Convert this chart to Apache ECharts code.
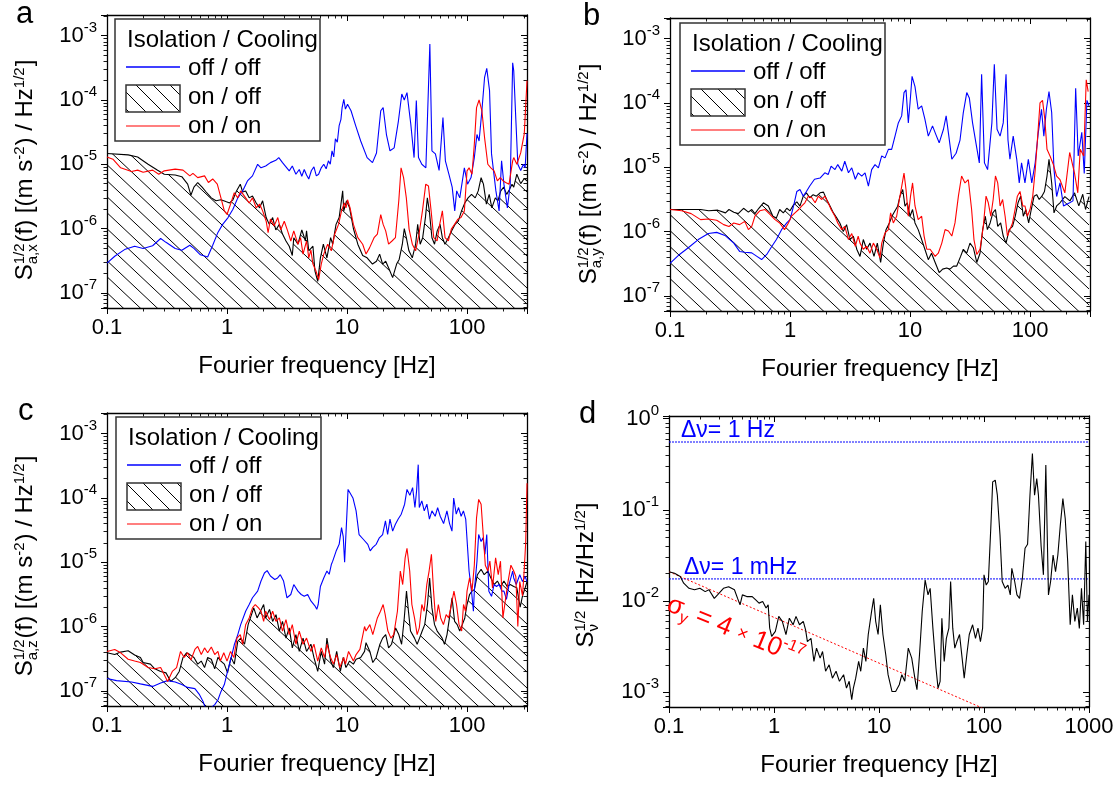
<!DOCTYPE html>
<html><head><meta charset="utf-8">
<script src="https://cdn.jsdelivr.net/npm/echarts@6/dist/echarts.min.js"></script>
<style>html,body{margin:0;padding:0;background:#fff}#c{width:1116px;height:785px}</style>
</head><body><div id="c"></div>
<script>
// ---------------- DATA ----------------
const aOffOff = [[0.1,2.9e-7],[0.116,3.7e-7],[0.14,4.7e-7],[0.17,5.3e-7],[0.2,4.9e-7],[0.24,5.4e-7],[0.28,7.0e-7],[0.31,6.1e-7],[0.37,4.9e-7],[0.42,4.6e-7],[0.49,5.5e-7],[0.53,4.9e-7],[0.6,3.9e-7],[0.69,3.6e-7],[0.76,5.5e-7],[0.84,8.7e-7],[0.92,1.16e-6],[1.02,1.48e-6],[1.12,2.0e-6],[1.23,3.0e-6],[1.35,3.85e-6],[1.48,5.5e-6],[1.63,6.6e-6],[1.8,1.0e-5],[1.92,8.8e-6],[2.1,9.4e-6],[2.3,1.06e-5],[2.55,1.15e-5],[2.7,1.27e-5],[2.9,1.06e-5],[3.1,9.1e-6],[3.3,7.9e-6],[3.5,9.4e-6],[3.75,7.0e-6],[4.0,8.3e-6],[4.2,6.5e-6],[4.4,8.3e-6],[4.6,6.8e-6],[4.8,5.9e-6],[5.05,8.0e-6],[5.3,9.1e-6],[5.55,6.6e-6],[5.8,7.0e-6],[6.1,8.8e-6],[6.4,1.0e-5],[6.7,8.5e-6],[7.0,1.13e-5],[7.25,1.0e-5],[7.5,1.62e-5],[7.75,1.3e-5],[8.0,2.5e-5],[8.3,2.2e-5],[8.6,4.0e-5],[8.9,5.0e-5],[9.1,7.6e-5],[9.4,1.02e-4],[9.7,7.2e-5],[10.1,8.6e-5],[10.8,6.8e-5],[11.8,4.0e-5],[13,2.3e-5],[14.7,1.27e-5],[16.3,1.06e-5],[17.6,1.5e-5],[19.1,6.8e-5],[20,7.6e-5],[21.3,2.9e-5],[22.8,1.62e-5],[24.7,1.8e-5],[26.8,4.7e-5],[28.6,1.24e-4],[30,1.0e-4],[31.6,1.3e-4],[34,4.2e-5],[36.2,1.27e-5],[37.8,9.8e-5],[39.4,1.27e-5],[42,1.0e-5],[45.4,8.8e-6],[49,7.4e-4],[51,1.62e-5],[54.5,1.45e-5],[58.5,8.0e-6],[63,5.35e-5],[66,1.13e-5],[70.6,7.0e-6],[75.2,4.4e-6],[79,1.88e-6],[82,3.85e-6],[87,3.0e-6],[95,8.8e-6],[101,4.9e-6],[108,6.2e-6],[115,1.27e-5],[121,2.9e-5],[126,2.3e-5],[133,6.8e-5],[140,2.24e-4],[146,3.1e-4],[154,1.4e-4],[160,1.45e-5],[174,3.85e-6],[185,1.88e-6],[194,1.13e-5],[203,4.9e-6],[217,2.1e-6],[229,4.9e-6],[240,3.8e-4],[245,2.85e-4],[255,5e-5],[265,1e-5],[280,8e-6],[295,1e-5],[305,8.8e-6],[316,3e-5]];
const aOnOff = [[0.1,1.47e-5],[0.15,1.4e-5],[0.18,1.3e-5],[0.22,1.0e-5],[0.26,8.2e-6],[0.3,7.0e-6],[0.37,6.8e-6],[0.42,6.4e-6],[0.47,4.9e-6],[0.5,3.3e-6],[0.53,4.4e-6],[0.57,5.2e-6],[0.62,4.4e-6],[0.67,3.7e-6],[0.74,3.0e-6],[0.81,2.7e-6],[0.89,2.8e-6],[0.99,2.6e-6],[1.05,2.5e-6],[1.12,2.8e-6],[1.2,3.85e-6],[1.29,4.9e-6],[1.35,3.7e-6],[1.43,3.85e-6],[1.53,3.0e-6],[1.63,3.2e-6],[1.75,2.5e-6],[1.87,2.1e-6],[1.98,2.7e-6],[2.12,1.48e-6],[2.25,1.16e-6],[2.4,1.48e-6],[2.55,9.5e-7],[2.73,1.16e-6],[2.9,8.2e-7],[3.1,6.4e-7],[3.3,5.3e-7],[3.5,3.8e-7],[3.6,7.2e-7],[3.9,5.7e-7],[4.2,9.5e-7],[4.5,6.4e-7],[4.6,9.2e-7],[4.8,4.5e-7],[5.2,5.3e-7],[5.4,2.2e-7],[5.7,1.5e-7],[6.0,3.5e-7],[6.35,5.7e-7],[6.8,3.5e-7],[7.3,7.2e-7],[7.6,5.7e-7],[8.1,1.16e-6],[8.6,1.48e-6],[8.9,2.4e-6],[9.2,3.85e-6],[9.4,1.88e-6],[9.9,2.7e-6],[10.5,2.1e-6],[11.3,1.0e-6],[12.3,5.7e-7],[13.5,3.8e-7],[14.7,3.5e-7],[16.3,2.8e-7],[17.6,3.1e-7],[18.7,4.0e-7],[19.8,2.8e-7],[21,3.1e-7],[22.5,2.3e-7],[24,1.72e-7],[25.9,2.8e-7],[27.2,3.3e-7],[28.9,5.7e-7],[30,1.0e-6],[31.2,7.2e-7],[32.8,4.5e-7],[35,3.5e-7],[37.3,5.7e-7],[38.8,1.16e-6],[40.7,5.7e-7],[42.7,7.2e-7],[45,1.48e-6],[46.7,3.0e-6],[48.5,1.88e-6],[51,7.2e-7],[53.6,5.7e-7],[56.4,9.2e-7],[59.6,1.16e-6],[62.3,7.2e-7],[65.5,5.7e-7],[69.9,7.2e-7],[74.5,9.2e-7],[79.4,1.16e-6],[84.6,1.3e-6],[90,1.88e-6],[95.8,2.5e-6],[102,3.0e-6],[109,3.4e-6],[117,3.0e-6],[124,3.85e-6],[131,6.2e-6],[137,4.9e-6],[145,2.4e-6],[153,3.4e-6],[161,2.1e-6],[172,3.0e-6],[181,2.7e-6],[191,3.85e-6],[202,4.4e-6],[214,3.4e-6],[225,4.0e-6],[237,4.9e-6],[245,4.4e-6],[260,7e-6],[280,5e-6],[300,6e-6],[316,5.5e-6]];
const aOnOn = [[0.1,1.3e-5],[0.112,1.2e-5],[0.13,8.8e-6],[0.16,7.7e-6],[0.18,8.1e-6],[0.2,7.5e-6],[0.24,8.1e-6],[0.27,7.0e-6],[0.3,7.9e-6],[0.37,8.4e-6],[0.43,8.1e-6],[0.49,6.6e-6],[0.52,7.2e-6],[0.57,6.2e-6],[0.65,6.6e-6],[0.7,5.2e-6],[0.76,5.9e-6],[0.83,4.9e-6],[0.89,3.0e-6],[0.95,1.88e-6],[1.0,1.65e-6],[1.07,2.4e-6],[1.15,3.6e-6],[1.23,3.0e-6],[1.3,3.85e-6],[1.43,3.0e-6],[1.53,2.5e-6],[1.63,3.0e-6],[1.75,2.1e-6],[1.87,2.4e-6],[1.98,1.88e-6],[2.12,1.3e-6],[2.2,8.6e-7],[2.3,1.4e-6],[2.47,1.1e-6],[2.65,1.48e-6],[2.8,9.5e-7],[3.0,1.3e-6],[3.2,9.2e-7],[3.4,6.4e-7],[3.6,9.2e-7],[3.9,5.7e-7],[4.1,7.2e-7],[4.3,4.0e-7],[4.6,6.4e-7],[4.8,3.5e-7],[5.0,4.6e-7],[5.2,2.8e-7],[5.5,2.2e-7],[5.8,1.6e-7],[6.1,2.8e-7],[6.4,4.0e-7],[6.9,5.7e-7],[7.4,4.5e-7],[7.9,8.2e-7],[8.5,1.16e-6],[9.0,1.88e-6],[9.5,2.5e-6],[9.8,2.1e-6],[10.1,2.8e-6],[10.6,2.1e-6],[11.3,1.16e-6],[12.3,7.2e-7],[13.5,5.7e-7],[14.4,4.0e-7],[15.4,5.0e-7],[16.8,7.2e-7],[17.9,8.2e-7],[19.1,1.65e-6],[20,1.16e-6],[21,9.2e-7],[22.2,5.7e-7],[23.7,6.4e-7],[25.3,7.2e-7],[27,2.7e-6],[28.2,8.8e-6],[29.6,6.2e-6],[31.2,3.0e-6],[32.9,9.8e-7],[35,5.7e-7],[37.3,4.5e-7],[39.8,8.2e-7],[42.5,1.88e-6],[45.3,4.9e-6],[47.7,4.6e-6],[50.2,1.88e-6],[52.8,7.2e-7],[56.3,6.4e-7],[59.2,1.16e-6],[62.3,1.88e-6],[65.6,7.2e-7],[69.9,6.4e-7],[74,9.8e-7],[78.7,1.16e-6],[84,1.4e-6],[89,1.48e-6],[95,1.88e-6],[100,7.9e-6],[104,8.8e-6],[110,7.0e-6],[115,2.05e-5],[120,7.6e-5],[126,1.0e-4],[133,6.8e-5],[140,2.6e-5],[149,1.0e-5],[158,8.8e-6],[168,7.9e-6],[179,5.5e-6],[189,6.2e-6],[200,5.5e-6],[210,5.2e-6],[224,4.9e-6],[240,1.13e-5],[245,1.27e-5],[260,1e-5],[280,1.5e-5],[300,3e-5],[310,1e-4],[316,2e-4]];

const bOffOff = [[0.1,3.2e-7],[0.12,4.4e-7],[0.142,5.6e-7],[0.172,7.5e-7],[0.209,9.3e-7],[0.245,9.7e-7],[0.287,8.7e-7],[0.34,6.6e-7],[0.38,4.9e-7],[0.42,4.75e-7],[0.48,4.65e-7],[0.53,4.1e-7],[0.58,3.66e-7],[0.64,4.4e-7],[0.7,5.75e-7],[0.77,7.5e-7],[0.85,1.07e-6],[0.94,1.36e-6],[1.0,1.53e-6],[1.07,2.48e-6],[1.14,4.2e-6],[1.21,4.5e-6],[1.29,3.55e-6],[1.37,4.2e-6],[1.46,5.1e-6],[1.6,6.5e-6],[1.78,6.8e-6],[1.95,8.2e-6],[2.08,7.7e-6],[2.2,1.04e-5],[2.37,9.2e-6],[2.5,1.1e-5],[2.7,8.7e-6],[2.86,1.24e-5],[3.07,8.2e-6],[3.27,9.8e-6],[3.5,6.5e-6],[3.7,8.2e-6],[3.96,7.3e-6],[4.22,8.2e-6],[4.5,5.1e-6],[4.79,9.2e-6],[5.11,1.1e-5],[5.45,9.8e-6],[5.81,1.5e-5],[6.19,1.4e-5],[6.6,1.9e-5],[7.03,1.9e-5],[7.5,3.05e-5],[7.99,4.9e-5],[8.52,6.3e-5],[8.91,1.45e-4],[9.26,1.6e-4],[9.68,4.9e-5],[10.0,1.0e-4],[10.4,2.6e-4],[11.0,1.8e-4],[11.7,8.0e-5],[12.5,9.0e-5],[13.3,5.6e-5],[14.2,3.05e-5],[15.4,4.4e-5],[16.4,3.25e-5],[17.5,2.4e-5],[19.0,3.9e-5],[20.0,6.3e-5],[20.9,3.4e-5],[22.3,1.33e-5],[24.2,1.65e-5],[26.1,2.65e-5],[27.8,7.1e-5],[29.7,1.45e-4],[31.2,1.2e-4],[33.2,4.9e-5],[35.4,2.4e-5],[37.8,1.17e-5],[39.5,2.8e-4],[41.7,1.17e-5],[44.3,9.2e-6],[48.1,4.9e-5],[50.4,4.0e-4],[53.1,3.9e-5],[56.3,3.05e-5],[59.8,4.9e-5],[63.1,2.8e-4],[65.5,2.65e-5],[68,1.33e-5],[72.4,3.05e-5],[77.5,1.33e-5],[81.3,5.7e-6],[85,1.17e-5],[90.7,5.7e-6],[96.8,1.33e-5],[103.4,5.7e-6],[110.4,1.17e-5],[117,3.4e-5],[124.6,8.0e-5],[130.3,3.05e-5],[136.9,8.0e-5],[143.9,1.5e-4],[151.5,7.1e-5],[158.4,9.2e-6],[166.6,3.5e-6],[177.7,5.7e-6],[190,2.5e-6],[214,2.8e-6],[228,3.0e-6],[240,1.7e-4],[252,1.5e-5],[270,3.5e-5],[283,8e-6],[298,1.1e-4],[310,9e-5]];
const bOnOff = [[0.1,2.2e-6],[0.125,2.2e-6],[0.15,2.2e-6],[0.18,2.2e-6],[0.21,2.1e-6],[0.25,2.15e-6],[0.29,1.95e-6],[0.31,2.2e-6],[0.34,2.0e-6],[0.37,1.9e-6],[0.41,2.3e-6],[0.45,2.0e-6],[0.48,2.2e-6],[0.51,1.9e-6],[0.55,2.3e-6],[0.6,2.8e-6],[0.66,2.5e-6],[0.72,1.73e-6],[0.77,1.63e-6],[0.82,2.2e-6],[0.88,1.95e-6],[0.94,2.3e-6],[1.0,2.1e-6],[1.07,2.6e-6],[1.14,2.9e-6],[1.21,2.48e-6],[1.29,3.55e-6],[1.37,4.0e-6],[1.46,3.35e-6],[1.56,3.75e-6],[1.66,3.55e-6],[1.78,4.0e-6],[1.9,4.1e-6],[2.02,3.15e-6],[2.16,2.48e-6],[2.3,1.95e-6],[2.45,1.63e-6],[2.6,1.36e-6],[2.78,1.0e-6],[2.96,1.28e-6],[3.16,7.5e-7],[3.37,8.5e-7],[3.6,5.3e-7],[3.83,4.1e-7],[4.08,7.5e-7],[4.35,5.3e-7],[4.64,6.6e-7],[5.01,4.1e-7],[5.34,6.6e-7],[5.69,3.3e-7],[6.0,6.6e-7],[6.31,1.07e-6],[6.73,1.36e-6],[7.07,1.73e-6],[7.5,2.1e-6],[7.89,2.48e-6],[8.25,3.55e-6],[8.69,4.5e-6],[9.08,2.48e-6],[9.49,2.8e-6],[10.0,1.73e-6],[10.5,2.2e-6],[11.0,1.36e-6],[11.7,1.07e-6],[12.5,7.5e-7],[13.3,5.3e-7],[14.2,3.65e-7],[15.1,4.6e-7],[16.2,3.3e-7],[17.5,2.3e-7],[18.7,2.6e-7],[20.2,2.7e-7],[21.5,2.6e-7],[23.0,2.9e-7],[24.5,2.9e-7],[26.4,4.1e-7],[27.8,5.3e-7],[29.7,4.6e-7],[31.6,6.6e-7],[33.7,5.6e-7],[36.0,3.3e-7],[38.3,4.6e-7],[40.3,1.07e-6],[42.4,1.73e-6],[44.1,1.07e-6],[46.5,1.36e-6],[49.0,1.95e-6],[51.5,2.2e-6],[53.8,1.2e-6],[56.9,1.36e-6],[59.8,8.5e-7],[63.1,6.6e-7],[67,1.07e-6],[71.5,1.2e-6],[75.3,1.73e-6],[79.4,2.8e-6],[83.5,3.55e-6],[87.9,1.73e-6],[92.3,2.2e-6],[97.4,1.36e-6],[102.4,2.2e-6],[108.1,3.55e-6],[113.5,3.75e-6],[119.2,3.15e-6],[125.5,3.55e-6],[131.9,4.2e-6],[138.5,7.3e-6],[143.9,1.33e-5],[151.5,5.7e-6],[158.4,1.95e-6],[166.6,2.5e-6],[177.7,2.8e-6],[195,3.5e-6],[215,3.0e-6],[235,4.0e-6],[255,2.5e-6],[275,3.8e-6],[290,2.2e-6],[310,3.5e-6]];
const bOnOn = [[0.1,2.2e-6],[0.125,2.1e-6],[0.15,1.9e-6],[0.18,1.53e-6],[0.21,1.57e-6],[0.245,1.5e-6],[0.28,1.28e-6],[0.31,1.2e-6],[0.34,1.36e-6],[0.38,1.28e-6],[0.42,1.44e-6],[0.45,1.07e-6],[0.48,1.2e-6],[0.51,1.73e-6],[0.56,2.1e-6],[0.62,2.2e-6],[0.68,1.85e-6],[0.75,1.53e-6],[0.82,1.36e-6],[0.9,1.07e-6],[0.97,1.36e-6],[1.03,1.73e-6],[1.1,1.95e-6],[1.18,2.2e-6],[1.25,2.48e-6],[1.33,2.8e-6],[1.42,3.55e-6],[1.52,3.35e-6],[1.62,2.8e-6],[1.72,3.55e-6],[1.84,3.15e-6],[1.95,3.55e-6],[2.08,2.8e-6],[2.2,2.2e-6],[2.37,1.73e-6],[2.5,1.36e-6],[2.7,1.07e-6],[2.86,1.2e-6],[3.07,7.5e-7],[3.27,9.3e-7],[3.5,5.9e-7],[3.7,8.5e-7],[3.83,6.6e-7],[4.08,5.3e-7],[4.35,5.9e-7],[4.64,4.6e-7],[4.95,6.6e-7],[5.27,5.3e-7],[5.62,3.9e-7],[5.81,6.6e-7],[6.19,9.5e-7],[6.6,1.07e-6],[6.89,1.95e-6],[7.26,1.36e-6],[7.74,1.73e-6],[8.15,3.15e-6],[8.52,5.0e-6],[8.91,8.1e-6],[9.26,4.5e-6],[9.68,1.73e-6],[10.1,3.55e-6],[10.5,5.7e-6],[11.0,2.5e-6],[11.7,1.53e-6],[12.5,1.73e-6],[13.1,8.5e-7],[13.8,5.3e-7],[14.7,5.3e-7],[16.2,4.1e-7],[17.2,4.6e-7],[18.4,6.6e-7],[19.6,1.07e-6],[20.9,1.02e-6],[22.3,8.5e-7],[23.7,1.36e-6],[25.3,3.55e-6],[26.9,7.3e-6],[28.7,5.7e-6],[30.6,6.4e-6],[32.6,2.2e-6],[34.1,7.5e-7],[36.0,4.4e-7],[38.3,5.3e-7],[40.8,1.2e-6],[43.0,3.55e-6],[44.9,2.8e-6],[47.1,1.73e-6],[49.3,3.15e-6],[51.5,7.3e-6],[53.8,5.7e-6],[56.3,2.5e-6],[59.1,3.15e-6],[62,1.73e-6],[64.8,8.5e-7],[68,1.07e-6],[71.5,1.36e-6],[75,2.2e-6],[78.4,3.55e-6],[82.5,4.2e-6],[87,2.5e-6],[90.7,2.5e-6],[94.9,1.73e-6],[100,2.2e-6],[105.3,3.55e-6],[110.4,9.0e-6],[114.8,2.4e-5],[121.1,1.0e-4],[127.1,1.1e-4],[132.8,5.6e-5],[138.5,1.9e-5],[146.7,1.5e-5],[156.5,1.1e-5],[166.6,7.3e-6],[177.7,6.4e-6],[195,4.0e-6],[214,1.7e-5],[235,8e-6],[250,4e-6],[262,1.9e-5],[280,1.5e-5],[294,2.3e-4],[305,1.5e-4]];

const cOffOff = [[0.1,1.55e-7],[0.12,1.44e-7],[0.16,1.37e-7],[0.19,1.28e-7],[0.24,1.17e-7],[0.28,1.32e-7],[0.32,1.44e-7],[0.37,1.37e-7],[0.42,1.25e-7],[0.47,1.13e-7],[0.54,1.08e-7],[0.59,8.7e-8],[0.63,6.9e-8],[0.67,5.0e-8],[0.7,4.3e-8],[0.74,5.5e-8],[0.79,6.1e-8],[0.84,7.2e-8],[0.89,9.7e-8],[0.95,1.25e-7],[1.01,2.0e-7],[1.08,3.2e-7],[1.15,5.2e-7],[1.23,7.5e-7],[1.3,1.07e-6],[1.43,1.73e-6],[1.53,2.2e-6],[1.63,2.8e-6],[1.8,3.55e-6],[1.92,5.1e-6],[2.05,6.8e-6],[2.16,7.4e-6],[2.3,6.1e-6],[2.5,5.4e-6],[2.64,5.7e-6],[2.78,6.4e-6],[2.96,5.1e-6],[3.16,2.8e-6],[3.4,3.15e-6],[3.6,4.5e-6],[3.9,3.55e-6],[4.15,3.15e-6],[4.4,2.95e-6],[4.7,3.15e-6],[5.0,2.5e-6],[5.4,2.1e-6],[5.6,1.85e-6],[5.75,2.2e-6],[6.0,4.2e-6],[6.4,5.7e-6],[6.8,7.3e-6],[7.1,6.5e-6],[7.4,9.2e-6],[7.6,1.04e-5],[8.1,1.48e-5],[8.6,1.9e-5],[9.0,3.45e-5],[9.3,2.5e-5],[9.55,1.0e-5],[10.2,1.36e-4],[11.2,1.0e-4],[11.9,6.3e-5],[12.6,2.7e-5],[13.6,2.3e-5],[14.9,1.9e-5],[15.6,1.5e-5],[16.4,1.7e-5],[17.5,1.9e-5],[18.6,2.4e-5],[19.8,2.7e-5],[20.9,4.4e-5],[21.8,2.7e-5],[22.8,4.7e-5],[24,3.05e-5],[25.3,3.9e-5],[26.7,4.7e-5],[28.3,5.6e-5],[30.2,8.0e-5],[31.6,1.36e-4],[33.4,1.1e-4],[35.2,1.45e-4],[36.8,7.1e-5],[38,1.3e-4],[39.2,3.3e-4],[40,7.1e-5],[42,9.0e-5],[44,6.3e-5],[46.3,8.0e-5],[48.6,4.7e-5],[51,6.3e-5],[54.3,5.2e-5],[56.9,7.1e-5],[59.8,5.2e-5],[63.8,4.0e-5],[68,6.3e-5],[71.5,4.0e-5],[74.9,3.05e-5],[77.4,1.0e-4],[81.3,5.6e-5],[85,7.1e-5],[89.3,5.2e-5],[93.3,6.3e-5],[97.5,4.7e-5],[100,4.4e-5],[104,7.3e-6],[109,3.55e-6],[113,1.73e-6],[115,3.55e-6],[121,1.04e-5],[125,2.7e-5],[131,2.1e-5],[136,2.4e-5],[141,1.33e-5],[146,2.7e-5],[152,3.55e-6],[160,2.95e-6],[168,4.5e-6],[176,4.2e-6],[185,4.5e-6],[195,3.55e-6],[203,3.55e-6],[213,2.65e-6],[224,4.5e-6],[240,7.3e-6],[245,5.7e-6],[257,4.5e-6],[275,6.4e-6],[290,5e-6],[305,6e-6],[316,5e-6]];
const cOnOff = [[0.1,3.9e-7],[0.116,3.66e-7],[0.13,4.0e-7],[0.15,4.2e-7],[0.17,3.6e-7],[0.19,3.3e-7],[0.2,2.75e-7],[0.23,2.6e-7],[0.25,2.2e-7],[0.28,2.0e-7],[0.31,1.9e-7],[0.34,1.4e-7],[0.37,1.6e-7],[0.4,2.0e-7],[0.43,3.3e-7],[0.46,3.9e-7],[0.49,3.66e-7],[0.53,3.3e-7],[0.57,2.6e-7],[0.61,2.9e-7],[0.65,2.3e-7],[0.69,3.3e-7],[0.74,3.1e-7],[0.79,2.2e-7],[0.84,3.3e-7],[0.89,2.9e-7],[0.95,2.6e-7],[1.01,1.9e-7],[1.08,3.3e-7],[1.15,2.6e-7],[1.23,5.9e-7],[1.3,6.6e-7],[1.4,5.3e-7],[1.5,1.07e-6],[1.6,1.53e-6],[1.67,1.95e-6],[1.78,1.36e-6],[1.9,1.73e-6],[2.02,2.2e-6],[2.1,1.36e-6],[2.26,1.85e-6],[2.4,1.2e-6],[2.56,1.53e-6],[2.73,8.5e-7],[2.9,1.2e-6],[3.1,6.6e-7],[3.3,9.5e-7],[3.5,4.65e-7],[3.75,7.5e-7],[4.0,4.1e-7],[4.3,6.6e-7],[4.6,4.1e-7],[5.0,5.3e-7],[5.3,3.3e-7],[5.7,2.0e-7],[6.1,4.1e-7],[6.5,2.6e-7],[6.8,6.6e-7],[7.3,2.9e-7],[7.7,2.3e-7],[8.2,4.1e-7],[8.8,2.0e-7],[9.3,3.3e-7],[9.8,2.3e-7],[10.5,2.9e-7],[11.3,2.6e-7],[11.9,3.1e-7],[13,3.3e-7],[14,4.1e-7],[14.4,5.6e-7],[15.5,4.1e-7],[16.4,2.75e-7],[17.5,3.3e-7],[18.8,5.3e-7],[19.8,6.6e-7],[21,7.5e-7],[22.2,4.65e-7],[23.5,5.3e-7],[25.4,9.5e-7],[27,7.5e-7],[28.5,5.3e-7],[30,1.36e-6],[31.3,3.55e-6],[32.5,1.73e-6],[33.8,8.5e-7],[36.5,6.6e-7],[38.4,5.3e-7],[40.2,6.6e-7],[42.3,8.5e-7],[44.4,1.07e-6],[46.8,2.2e-6],[48.8,5.7e-6],[51,1.95e-6],[53.6,1.07e-6],[56.4,8.5e-7],[59.2,7.5e-7],[62,6.6e-7],[64.9,5.3e-7],[68.1,7.5e-7],[71.4,1.36e-6],[75,2.8e-6],[78.8,1.2e-6],[82.8,1.07e-6],[86.9,8.5e-7],[91.3,1.07e-6],[95.8,1.36e-6],[100,2.2e-6],[105,3.15e-6],[110,3.55e-6],[115,3.75e-6],[122,6.4e-6],[131,7.8e-6],[139,6.4e-6],[149,7.3e-6],[158,5.7e-6],[168,4.5e-6],[179,5.1e-6],[190,4.2e-6],[203,5.1e-6],[216,4.2e-6],[229,4.5e-6],[245,4.2e-6],[260,4e-6],[277,2e-6],[290,3e-6],[305,4e-6],[316,5e-6]];
const cOnOn = [[0.1,4.1e-7],[0.116,4.4e-7],[0.13,3.9e-7],[0.15,3.1e-7],[0.17,2.9e-7],[0.19,2.75e-7],[0.22,2.3e-7],[0.25,2.2e-7],[0.28,2.3e-7],[0.32,1.4e-7],[0.35,2.0e-7],[0.38,2.3e-7],[0.41,4.1e-7],[0.44,3.3e-7],[0.47,3.9e-7],[0.5,3.0e-7],[0.54,4.4e-7],[0.57,4.9e-7],[0.61,3.66e-7],[0.65,4.65e-7],[0.69,3.9e-7],[0.74,4.8e-7],[0.79,3.66e-7],[0.84,4.1e-7],[0.88,2.9e-7],[0.94,3.9e-7],[1.0,2.9e-7],[1.07,4.1e-7],[1.14,3.3e-7],[1.21,6.6e-7],[1.29,7.5e-7],[1.35,5.3e-7],[1.43,1.07e-6],[1.53,1.36e-6],[1.63,1.95e-6],[1.72,2.2e-6],[1.83,1.95e-6],[1.92,1.73e-6],[2.02,1.2e-6],[2.1,1.73e-6],[2.26,1.28e-6],[2.4,1.73e-6],[2.56,1.2e-6],[2.73,1.36e-6],[2.9,8.5e-7],[3.1,1.28e-6],[3.3,7.5e-7],[3.5,1.07e-6],[3.75,5.3e-7],[4.0,8.5e-7],[4.3,5.3e-7],[4.6,6.6e-7],[5.0,4.1e-7],[5.3,5.3e-7],[5.7,2.9e-7],[6.1,4.65e-7],[6.5,3.3e-7],[6.8,5.3e-7],[7.3,3.3e-7],[7.7,2.6e-7],[8.2,3.66e-7],[8.7,2.3e-7],[9.4,3.3e-7],[9.7,2.6e-7],[10.3,4.1e-7],[11.3,2.9e-7],[11.9,3.66e-7],[12.8,4.4e-7],[14,1.0e-6],[14.4,8.5e-7],[15.5,1.07e-6],[16.4,7.5e-7],[17.9,1.36e-6],[19,1.73e-6],[20,2.2e-6],[20.8,1.53e-6],[21.9,8.5e-7],[23.2,6.6e-7],[24.5,7.5e-7],[26.3,1.73e-6],[27.8,7.3e-6],[29.1,4.5e-6],[30.5,1.17e-5],[31.6,1.65e-5],[33.3,7.3e-6],[34.7,2.2e-6],[36.5,1.36e-6],[38.4,7.5e-7],[40,9.5e-7],[42,2.2e-6],[43.9,1.73e-6],[46.2,4.5e-6],[48.3,7.3e-6],[50.5,1.33e-5],[52.6,3.55e-6],[54.9,1.2e-6],[57.7,2.2e-6],[60.3,1.36e-6],[63.6,1.07e-6],[67,1.53e-6],[70.3,1.36e-6],[74.1,2.2e-6],[77.8,3.55e-6],[81.7,2.2e-6],[85.8,1.07e-6],[90.2,8.5e-7],[93.5,2.2e-6],[97.2,1.73e-6],[100,3.55e-6],[105,5.7e-6],[110,3.55e-6],[115,9.0e-6],[120,4.9e-5],[125,9.5e-5],[131,8.0e-5],[137,2.4e-5],[142,9.0e-6],[149,7.3e-6],[155,1.04e-5],[163,4.0e-6],[173,1.17e-5],[182,6.4e-6],[190,1.04e-5],[199,1.36e-6],[210,2.8e-6],[220,5.1e-6],[232,9.0e-6],[245,7.3e-6],[255,6e-6],[265,1e-6],[275,5e-6],[290,3e-6],[300,8e-6],[308,2e-5],[316,1.7e-4]];

const dNoise = [[0.1,0.021],[0.113,0.0202],[0.128,0.0186],[0.138,0.0157],[0.155,0.0138],[0.175,0.0133],[0.197,0.0138],[0.221,0.0127],[0.24,0.0133],[0.27,0.0107],[0.29,0.0117],[0.33,0.0138],[0.37,0.0144],[0.42,0.0133],[0.45,0.0107],[0.475,0.0091],[0.5,0.0117],[0.55,0.0112],[0.62,0.0112],[0.67,0.0103],[0.72,0.0095],[0.78,0.0099],[0.84,0.0084],[0.88,0.0091],[0.91,0.00505],[0.95,0.0041],[1.03,0.00465],[1.11,0.0068],[1.2,0.006],[1.3,0.0043],[1.4,0.0065],[1.52,0.0055],[1.62,0.0068],[1.75,0.0055],[1.9,0.006],[2.0,0.00484],[2.08,0.0036],[2.25,0.0039],[2.4,0.00218],[2.54,0.00305],[2.75,0.00237],[2.9,0.0028],[3.1,0.0017],[3.35,0.002],[3.6,0.00143],[3.9,0.0017],[4.2,0.00132],[4.6,0.00156],[4.9,0.00111],[5.2,0.00132],[5.5,0.00083],[5.7,0.00111],[6.0,0.00143],[6.4,0.00218],[6.7,0.0017],[7.1,0.00305],[7.5,0.00218],[7.9,0.0043],[8.5,0.0077],[8.9,0.0107],[9.3,0.006],[9.8,0.0043],[10.3,0.0091],[10.9,0.0043],[11.6,0.00258],[12.2,0.00156],[13.3,0.00102],[14.4,0.00102],[15.6,0.00121],[16.5,0.00156],[17.6,0.00132],[19,0.00305],[20.5,0.00237],[22.2,0.00132],[23,0.00107],[24.3,0.00258],[25.8,0.0077],[27.5,0.017],[29.3,0.0117],[30.7,0.0138],[32.6,0.00505],[34.9,0.00185],[36.5,0.00111],[38.2,0.00132],[39.7,0.0065],[41.8,0.00218],[43.8,0.0039],[46.3,0.00505],[48.1,0.0164],[50.4,0.00505],[52.7,0.00305],[55.2,0.0036],[58.5,0.0043],[61.9,0.00237],[64.8,0.00143],[68.6,0.00258],[72.4,0.0043],[77.9,0.0055],[83,0.0039],[87.6,0.00505],[92.5,0.0036],[97,0.00505],[100,0.0194],[105,0.015],[110,0.0164],[116,0.0627],[121,0.203],[128,0.212],[134,0.145],[142,0.053],[149,0.0164],[159,0.0138],[169,0.015],[178,0.0117],[184,0.0229],[196,0.0164],[206,0.0117],[218,0.0107],[232,0.0178],[246,0.0379],[260,0.042],[274,0.145],[289,0.414],[303,0.145],[318,0.22],[330,0.145],[350,0.04],[368,0.0194],[388,0.31],[411,0.0117],[431,0.0164],[455,0.032],[480,0.021],[505,0.032],[533,0.068],[564,0.133],[594,0.08],[627,0.027],[662,0.0055],[695,0.0117],[733,0.006],[774,0.0084],[809,0.005],[848,0.0138],[889,0.0055],[932,0.045],[966,0.006],[1000,0.0117]];
const dSigmaLine = [[0.1,0.021],[100,0.00066]];
const dLine1Hz = [[0.1,0.555],[1000,0.555]];
const dLine1mHz = [[0.1,0.0175],[1000,0.0175]];

const xRangeABC = [0.1, 316];
const yRangeABC = [5.8e-8, 2.1e-3];
const xRangeD = [0.1, 1000];
const yRangeD = [6.9e-4, 1.07];
const legendTitle = 'Isolation / Cooling';
const legendNames = ['off / off', 'on / off', 'on / on'];
const xName = 'Fourier frequency [Hz]';

// ---------------- STYLE / HELPERS ----------------
const FONT = "'Liberation Sans', Arial, Helvetica, sans-serif";
const BLUE = '#0000ff', RED = '#ff0000', BLACK = '#000000';
const mctx = document.createElement('canvas').getContext('2d');
function tw(t, s) { mctx.font = s + 'px ' + FONT; return mctx.measureText(t).width; }

function makeHatch(w, h) {
  const c = document.createElement('canvas'); c.width = w; c.height = h;
  const g = c.getContext('2d'); g.strokeStyle = '#000'; g.lineWidth = 1;
  g.beginPath();
  for (const dx of [-w, 0, w]) { g.moveTo(dx - w, -h); g.lineTo(dx + 2 * w, 2 * h); }
  g.stroke();
  return c;
}
const hatchPlot = makeHatch(17, 16);
const hatchLegend = makeHatch(17, 17);

function isPow10(v) { const e = Math.log10(v); return Math.abs(e - Math.round(e)) < 1e-6; }
function xLabel(v) { return isPow10(v) ? (v < 1 ? String(+v.toPrecision(3)) : String(Math.round(v))) : ''; }
function yLabel(v) { return isPow10(v) ? '{b|10}{s|' + Math.round(Math.log10(v)) + '}' : ''; }

function axis(gi, range, pos, isY) {
  const main = (pos === 'bottom' || pos === 'left');
  const a = {
    type: 'log', logBase: 10, gridIndex: gi, position: pos, min: range[0], max: range[1],
    axisLine: { show: true, onZero: false, lineStyle: { color: '#000', width: 1.3 } },
    axisTick: { show: true, inside: !main, length: 6, lineStyle: { color: '#000', width: 1 } },
    minorTick: { show: true, splitNumber: 9, length: 3.5, lineStyle: { color: '#000', width: 0.9 } },
    splitLine: { show: false }, minorSplitLine: { show: false },
    axisLabel: { show: false }, axisPointer: { show: false }, silent: true
  };
  if (main && isY) {
    a.axisLabel = { show: true, margin: 10, formatter: yLabel, color: '#000', fontFamily: FONT,
      rich: { b: { fontSize: 22, lineHeight: 31, fontFamily: FONT, color: '#000' },
              s: { fontSize: 15, verticalAlign: 'top', fontFamily: FONT, color: '#000' } } };
  } else if (main) {
    a.axisLabel = { show: true, margin: 9, fontSize: 22, fontFamily: FONT, color: '#000', formatter: xLabel };
    a.name = xName; a.nameLocation = 'middle'; a.nameGap = 46;
    a.nameTextStyle = { fontSize: 24, fontFamily: FONT, color: '#000' };
  }
  return a;
}

const grids = [
  { left: 107, top: 15, width: 420, height: 293 },
  { left: 670, top: 18, width: 420, height: 293 },
  { left: 107, top: 413, width: 420, height: 293 },
  { left: 669, top: 416, width: 420, height: 291 }
].map(g => Object.assign({ containLabel: false, outerBoundsMode: 'none', show: false }, g));

const xAxes = [], yAxes = [];
for (let i = 0; i < 4; i++) {
  const xr = i === 3 ? xRangeD : xRangeABC, yr = i === 3 ? yRangeD : yRangeABC;
  xAxes.push(axis(i, xr, 'bottom', false), axis(i, xr, 'top', false));
  yAxes.push(axis(i, yr, 'left', true), axis(i, yr, 'right', true));
}

function line(name, data, color, i, extra) {
  return Object.assign({ type: 'line', name, data, xAxisIndex: 2 * i, yAxisIndex: 2 * i,
    symbol: 'none', showSymbol: false, smooth: false, clip: true, silent: true, animation: false,
    lineStyle: { color, width: 1.1 }, itemStyle: { color }, z: 3 }, extra || {});
}
const hatchArea = { areaStyle: { color: { image: hatchPlot, repeat: 'repeat' }, opacity: 1, origin: 'start' }, z: 2 };

const series = [];
[[aOnOff, aOffOff, aOnOn], [bOnOff, bOffOff, bOnOn], [cOnOff, cOffOff, cOnOn]].forEach((set, i) => {
  series.push(line(legendNames[1], set[0], BLACK, i, hatchArea));
  series.push(line(legendNames[0], set[1], BLUE, i));
  series.push(line(legendNames[2], set[2], RED, i));
});
series.push(line('1 Hz', dLine1Hz, BLUE, 3, { lineStyle: { color: BLUE, width: 1, type: [2, 1] } }));
series.push(line('1 mHz', dLine1mHz, BLUE, 3, { lineStyle: { color: BLUE, width: 1, type: [2, 1] } }));
series.push(line('sigma', dSigmaLine, RED, 3, { lineStyle: { color: RED, width: 1, type: [2, 2] } }));
series.push(line('S_nu', dNoise, BLACK, 3));

// ---------------- GRAPHIC TEXT ----------------
function txt(t, x, y, size, color, extra) {
  return Object.assign({ type: 'text', x, y, z: 101,
    style: { text: t, fontSize: size, fontFamily: FONT, fill: color || '#000',
      align: 'left', verticalAlign: 'middle', textAlign: 'left', textVerticalAlign: 'middle' } }, extra || {});
}
function legend(x0, y0) {
  return [
    { type: 'rect', z: 100, shape: { x: x0, y: y0, width: 205, height: 122 }, style: { fill: '#fff', stroke: '#333', lineWidth: 1.5 } },
    txt(legendTitle, x0 + 12, y0 + 21, 24),
    { type: 'line', z: 101, shape: { x1: x0 + 11, y1: y0 + 48, x2: x0 + 65, y2: y0 + 48 }, style: { stroke: BLUE, lineWidth: 1.5 } },
    txt(legendNames[0], x0 + 73, y0 + 49, 24),
    { type: 'rect', z: 101, shape: { x: x0 + 11, y: y0 + 66, width: 54, height: 27 }, style: { fill: { image: hatchLegend, repeat: 'repeat' }, stroke: '#333', lineWidth: 1.5 } },
    txt(legendNames[1], x0 + 73, y0 + 78, 24),
    { type: 'line', z: 101, shape: { x1: x0 + 11, y1: y0 + 107, x2: x0 + 65, y2: y0 + 107 }, style: { stroke: RED, lineWidth: 1.2 } },
    txt(legendNames[2], x0 + 73, y0 + 107, 24)
  ];
}
function yTitle(cx, cy, pieces) {
  const F = 24, f = 15, SUP = -0.22 * F, SUB = 0.33 * F;
  const items = []; let x = 0;
  for (const p of pieces) {
    if (p.stack) {
      const w = Math.max(tw(p.stack[0], f), tw(p.stack[1], f));
      items.push({ t: p.stack[0], x, y: SUP, s: f }, { t: p.stack[1], x, y: SUB, s: f }); x += w + 1;
    } else if (p.sup) { items.push({ t: p.sup, x, y: SUP, s: f }); x += tw(p.sup, f) + 1; }
    else { items.push({ t: p.t, x, y: 0, s: F }); x += tw(p.t, F); }
  }
  const total = x;
  return { type: 'group', x: cx, y: cy, rotation: Math.PI / 2, z: 101,
    children: items.map(it => txt(it.t, it.x - total / 2, it.y, it.s)) };
}
const accPieces = sub => [{ t: 'S' }, { stack: ['1/2', sub] }, { t: '(f) [(m s' }, { sup: '-2' }, { t: ') / Hz' }, { sup: '1/2' }, { t: ']' }];

const graphics = [
  txt('a', 16, 14.5, 31), txt('b', 583, 16, 31), txt('c', 18, 411, 31), txt('d', 579, 414.5, 31),
  yTitle(25, 170, accPieces('a,x')),
  yTitle(589, 174, accPieces('a,y')),
  yTitle(25, 566, accPieces('a,z')),
  yTitle(586, 575, [{ t: 'S' }, { stack: ['1/2', 'ν'] }, { t: ' [Hz/Hz' }, { sup: '1/2' }, { t: ']' }]),
  ...legend(115, 19), ...legend(680, 23), ...legend(116, 417),
  txt('Δν= 1 Hz', 681, 431, 23, BLUE),
  txt('Δν= 1 mHz', 684, 568, 23, BLUE),
  { type: 'text', x: 735, y: 631, rotation: -0.39, z: 101,
    style: { text: '{m|σ}{u|y}{m| = 4 }{x|×}{m| 10}{p|-17}', align: 'center', verticalAlign: 'middle',
      textAlign: 'center', textVerticalAlign: 'middle', fill: RED, fontFamily: FONT,
      rich: { m: { fontSize: 26, lineHeight: 32, fill: RED, color: RED, fontFamily: FONT },
              u: { fontSize: 16, verticalAlign: 'bottom', fill: RED, color: RED, fontFamily: FONT },
              x: { fontSize: 18, fill: RED, color: RED, fontFamily: FONT },
              p: { fontSize: 16, verticalAlign: 'top', fill: RED, color: RED, fontFamily: FONT } } } }
];

const chart = echarts.init(document.getElementById('c'), null, { renderer: 'canvas', width: 1116, height: 785 });
chart.setOption({
  animation: false, backgroundColor: '#ffffff',
  grid: grids, xAxis: xAxes, yAxis: yAxes, series, graphic: graphics
});
</script></body></html>
